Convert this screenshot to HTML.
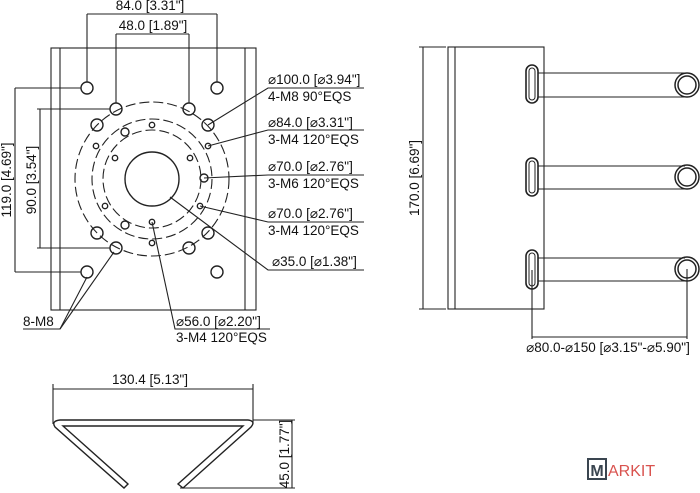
<!DOCTYPE html>
<html><head><style>
body{margin:0;background:#fff;}
svg{display:block;}
text{font-family:"Liberation Sans","DejaVu Sans",sans-serif;font-size:13.5px;fill:#111;}
</style></head><body>
<svg width="700" height="493" viewBox="0 0 700 493" xmlns="http://www.w3.org/2000/svg">
<g stroke="#222" stroke-width="1.1" fill="none">
<rect x="51" y="48" width="205" height="262"/>
<line x1="60" y1="48" x2="60" y2="310"/>
<line x1="245" y1="48" x2="245" y2="310"/>
<line x1="87" y1="14" x2="217" y2="14"/>
<line x1="87" y1="14" x2="87" y2="82"/>
<line x1="217" y1="14" x2="217" y2="82"/>
<line x1="116" y1="34" x2="189" y2="34"/>
<line x1="116" y1="34" x2="116" y2="103"/>
<line x1="189" y1="34" x2="189" y2="103"/>
<line x1="15" y1="88" x2="15" y2="272"/>
<line x1="15" y1="88" x2="81" y2="88"/>
<line x1="15" y1="272" x2="81" y2="272"/>
<line x1="40" y1="109" x2="40" y2="248"/>
<line x1="37" y1="109" x2="110" y2="109"/>
<line x1="37" y1="248" x2="110" y2="248"/>
<circle cx="152" cy="179" r="77" stroke-dasharray="10,4"/>
<circle cx="152" cy="179" r="60" stroke-dasharray="10,4"/>
<circle cx="152" cy="179" r="49" stroke-dasharray="10,4"/>
<circle cx="152" cy="179" r="27" stroke-width="1.4"/>
<g stroke-width="1.4">
<circle cx="87" cy="88" r="6"/><circle cx="217" cy="88" r="6"/>
<circle cx="116" cy="109" r="6"/><circle cx="189" cy="109" r="6"/>
<circle cx="97" cy="125" r="6"/><circle cx="208" cy="125" r="6"/>
<circle cx="97" cy="233" r="6"/><circle cx="208" cy="233" r="6"/>
<circle cx="116" cy="248" r="6"/><circle cx="189" cy="248" r="6"/>
<circle cx="87" cy="272" r="6"/><circle cx="217" cy="272" r="6"/>
<circle cx="125" cy="132" r="4"/><circle cx="125" cy="225" r="4"/><circle cx="204" cy="178" r="4"/>
<circle cx="152" cy="125" r="2.7"/><circle cx="96" cy="146" r="2.7"/><circle cx="208" cy="146" r="2.7"/>
<circle cx="115" cy="158" r="2.7"/><circle cx="190" cy="158" r="2.7"/>
<circle cx="105" cy="206" r="2.7"/><circle cx="200" cy="206" r="2.7"/>
<circle cx="152" cy="222" r="2.7"/><circle cx="152" cy="243" r="2.7"/>
</g>
<polyline points="208,125 268,88 364,88"/>
<polyline points="208,146 268,130 364,130"/>
<polyline points="204,178 268,175 364,175"/>
<polyline points="200,206 268,222 364,222"/>
<polyline points="170,197 268,270 364,270"/>
<polyline points="152,222 175,329 270,329"/>
<polyline points="23,329 60,329 87,277"/>
<line x1="60" y1="329" x2="114" y2="252"/>

<rect x="448" y="47" width="96" height="262"/>
<line x1="455" y1="47" x2="455" y2="309"/>
<line x1="423" y1="47" x2="423" y2="309"/>
<line x1="419" y1="47" x2="446" y2="47"/>
<line x1="419" y1="309" x2="446" y2="309"/>
<g stroke-width="1.6">
<rect x="526" y="65" width="12" height="38" rx="6"/>
<rect x="526" y="158" width="12" height="38" rx="6"/>
<rect x="526" y="250" width="12" height="39" rx="6"/>
<rect x="529" y="68" width="6" height="32" rx="3" stroke-width="1"/>
<rect x="529" y="161" width="6" height="32" rx="3" stroke-width="1"/>
<rect x="529" y="253" width="6" height="33" rx="3" stroke-width="1"/>
</g>
<line x1="538" y1="73" x2="685" y2="73"/><line x1="538" y1="97" x2="685" y2="97"/>
<line x1="538" y1="166" x2="685" y2="166"/><line x1="538" y1="189" x2="685" y2="189"/>
<line x1="538" y1="258" x2="685" y2="258"/><line x1="538" y1="281" x2="685" y2="281"/>
<g stroke-width="1.5">
<circle cx="687" cy="85" r="12"/><circle cx="687" cy="85" r="9"/>
<circle cx="687" cy="177" r="12"/><circle cx="687" cy="177" r="9"/>
<circle cx="687" cy="269" r="12"/><circle cx="687" cy="269" r="9"/>
</g>
<line x1="532" y1="270" x2="532" y2="339"/>
<line x1="687" y1="269" x2="687" y2="339"/>
<line x1="532" y1="337" x2="687" y2="337"/>

<line x1="53" y1="389" x2="253" y2="389"/>
<line x1="53" y1="384" x2="53" y2="424"/>
<line x1="253" y1="384" x2="253" y2="424"/>
<g stroke-width="1.4">
<path d="M60,420 L248,420 Q256,421 251,427 L183,488 L178,484 L243,426 L63,426 L128,484 L124,488 L55,427 Q51,421 60,420 Z"/>
</g>
<line x1="253" y1="420" x2="295" y2="420"/>
<line x1="180" y1="488" x2="295" y2="488"/>
<line x1="292" y1="420" x2="292" y2="488"/>
</g>

<text x="150" y="10" text-anchor="middle">84.0 [3.31"]</text>
<text x="153" y="30" text-anchor="middle">48.0 [1.89"]</text>
<text transform="translate(11,180) rotate(-90)" text-anchor="middle">119.0 [4.69"]</text>
<text transform="translate(36,180) rotate(-90)" text-anchor="middle">90.0 [3.54"]</text>
<text x="268" y="84">⌀100.0 [⌀3.94"]</text>
<text x="268" y="101">4-M8 90°EQS</text>
<text x="268" y="127">⌀84.0 [⌀3.31"]</text>
<text x="268" y="144">3-M4 120°EQS</text>
<text x="268" y="171">⌀70.0 [⌀2.76"]</text>
<text x="268" y="188">3-M6 120°EQS</text>
<text x="268" y="218">⌀70.0 [⌀2.76"]</text>
<text x="268" y="235">3-M4 120°EQS</text>
<text x="272" y="266">⌀35.0 [⌀1.38"]</text>
<text x="176" y="326">⌀56.0 [⌀2.20"]</text>
<text x="176" y="342">3-M4 120°EQS</text>
<text x="23" y="326">8-M8</text>
<text transform="translate(419,178) rotate(-90)" text-anchor="middle">170.0 [6.69"]</text>
<text x="608" y="352" text-anchor="middle">⌀80.0-⌀150 [⌀3.15"-⌀5.90"]</text>
<text x="150" y="384" text-anchor="middle">130.4 [5.13"]</text>
<text transform="translate(289,454) rotate(-90)" text-anchor="middle">45.0 [1.77"]</text>

<rect x="588" y="459" width="18" height="20" fill="none" stroke="#3a4550" stroke-width="2"/>
<text x="597" y="476" text-anchor="middle" style="font-size:16px;fill:#3a4550;font-weight:bold">M</text>
<text x="608" y="476" style="font-size:16px;fill:#d9534f">ARKIT</text>
</svg>
</body></html>
